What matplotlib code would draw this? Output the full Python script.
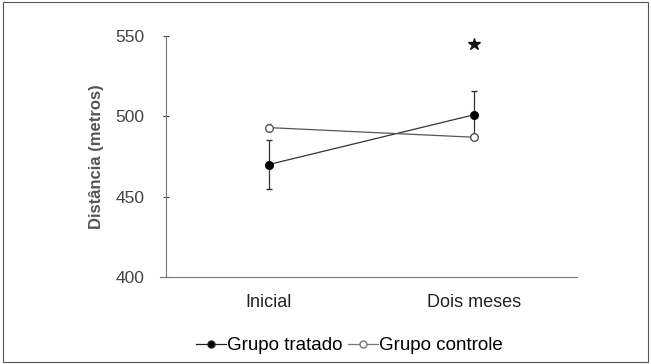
import matplotlib.pyplot as plt
from matplotlib.patches import Rectangle
from matplotlib.lines import Line2D

plt.rcParams['font.family'] = ['Liberation Sans', 'DejaVu Sans']

periodos = ["Inicial", "Dois meses"]
tratado = [470, 501]
tratado_err = [15, 15]
controle = [493, 487]
controle_err = [2, 2]
yticks = [400, 450, 500, 550]

fig = plt.figure(figsize=(6.51, 3.64), dpi=100)
fig.patches.append(Rectangle((0.004, 0.005), 0.992, 0.99, transform=fig.transFigure,
                             fill=False, edgecolor='#555555', linewidth=0.8))
ax = fig.add_axes([0.255, 0.239, 0.631, 0.662])

x = range(len(periodos))
ax.errorbar(x, tratado, yerr=tratado_err, color='#333333', marker='o', markersize=5.5,
            markerfacecolor='black', markeredgecolor='black', linewidth=0.9,
            elinewidth=0.9, capsize=2, zorder=3)
ax.errorbar(x, controle, yerr=controle_err, color='#555555', marker='o', markersize=5.5,
            markerfacecolor='white', markeredgecolor='#555555', linewidth=0.9,
            elinewidth=0.9, capsize=1.5, zorder=4)
ax.plot([1], [545], marker='*', markersize=9, color='#111111', linestyle='none')

ax.set_xlim(-0.5, 1.5)
ax.set_ylim(400, 550)
ax.set_yticks(yticks)
ax.set_xticks(list(x))
ax.set_xticklabels(periodos, fontsize=13, color='#222222')
ax.tick_params(axis='x', length=0, pad=12)
ax.tick_params(axis='y', direction='inout', length=5, labelsize=12.5, colors='#444444', pad=13)
ax.set_ylabel("Distância (metros)", fontsize=12, fontweight='bold', color='#555555', labelpad=8)
for s in ['top', 'right']:
    ax.spines[s].set_visible(False)
ax.spines['left'].set_color('#777777')
ax.spines['bottom'].set_color('#777777')
ax.spines['bottom'].set_bounds(-0.53, 1.5)

handles = [
    Line2D([], [], color='#222222', marker='o', markersize=5, markerfacecolor='black',
           linewidth=0.9),
    Line2D([], [], color='#777777', marker='o', markersize=5, markerfacecolor='white',
           linewidth=0.9),
]
fig.legend(handles, ["Grupo tratado", "Grupo controle"], loc='center',
           bbox_to_anchor=(0.537, 0.05), ncol=2, frameon=False, fontsize=13.5,
           handlelength=1.6, handletextpad=0.05, columnspacing=0.3)

fig.savefig("out.png", dpi=100)
